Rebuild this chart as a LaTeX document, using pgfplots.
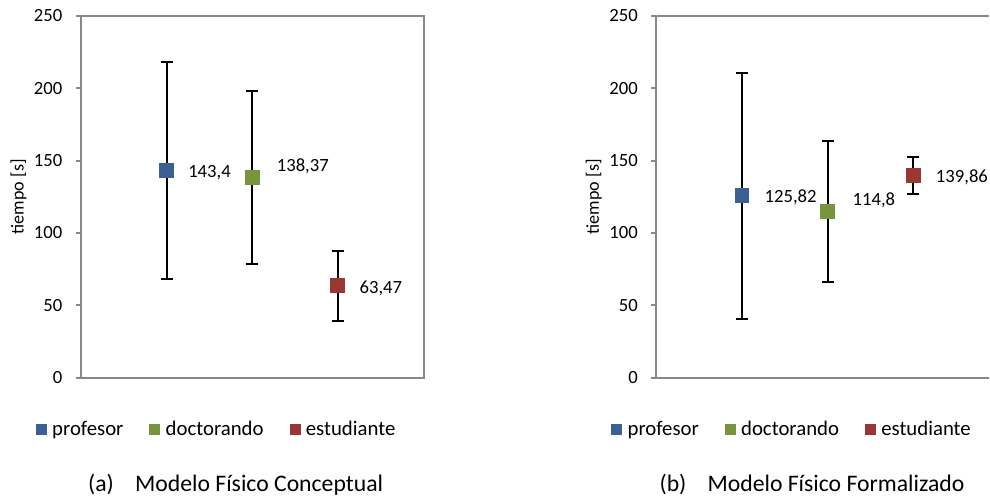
\documentclass[border=0pt]{standalone}
\usepackage{fontspec}
\setmainfont{Carlito}
\usepackage{pgfplots}
\pgfplotsset{compat=1.18}
\definecolor{cblue}{HTML}{3B6194}
\definecolor{cgreen}{HTML}{77963C}
\definecolor{cred}{HTML}{993735}
\definecolor{cframe}{HTML}{888888}
\newcommand\chartfont{\fontsize{14}{16}\selectfont}
\pgfplotsset{
  panel/.style={
    scale only axis, height=271.5pt,
    anchor=south west,
    xmin=0, ymin=0, ymax=250,
    ytick={0,50,...,250}, xtick=\empty, ytick pos=left,
    axis line style={-, cframe, line width=1.5pt},
    tick style={cframe, line width=1.5pt},
    tick align=outside, major tick length=3.75pt,
    yticklabel style={font=\chartfont, inner sep=0pt, xshift=-10pt},
    /pgf/number format/assume math mode=true,
    ylabel={tiempo [s]},
    ylabel style={font=\fontsize{13.6}{16}\selectfont, at={([xshift=-46.9pt]axis description cs:0,0.5)}, anchor=center},
    point meta=explicit symbolic,
    nodes near coords,
    visualization depends on={value \thisrow{dx}\as\labdx},
    visualization depends on={value \thisrow{dy}\as\labdy},
    nodes near coords style={anchor=west, inner sep=0pt, text depth=0pt, text=black,
      font=\chartfont, xshift=\labdx pt, yshift=\labdy pt},
    legend columns=3,
    legend style={at={(axis description cs:0,-0.1436)}, xshift=-33.96pt, anchor=west,
      draw=none, fill=none, inner sep=0pt,
      font=\fontsize{15.6}{18}\selectfont,
      nodes={inner sep=0pt},
      /tikz/every odd column/.append style={column sep=4.3pt},
      /tikz/every even column/.append style={column sep=19.5pt}},
  },
  pt/.style={only marks, mark=square*, color=#1,
    mark size=5.25pt, mark options={fill=#1, draw=#1, line width=0pt},
    error bars/.cd, y dir=both, y explicit,
    error bar style={black, line width=1.5pt},
    error mark options={black, rotate=90, mark size=4.5pt, line width=1.5pt},
    /pgfplots/.cd,
    legend image code/.code={\fill[#1] (0pt,-3.75pt) rectangle (7.5pt,3.75pt);}},
}
\begin{document}
\begin{tikzpicture}
\path (0,0) rectangle (742.5pt,-372.75pt);
\begin{axis}[panel, width=257.25pt, xmax=4, at={(60.75pt,-283.5pt)}]
\addplot[pt=cblue] table[x=x, y=y, y error=e, meta=lab] {
x y e lab dx dy
1 143.4 75 {143,4} 16.3 -0.75
};
\addlegendentry{profesor}
\addplot[pt=cgreen] table[x=x, y=y, y error=e, meta=lab] {
x y e lab dx dy
2 138.37 60 {138,37} 18.5 9
};
\addlegendentry{doctorando}
\addplot[pt=cred] table[x=x, y=y, y error=e, meta=lab] {
x y e lab dx dy
3 63.47 24 {63,47} 16.3 -0.75
};
\addlegendentry{estudiante}
\end{axis}
\begin{axis}[panel, width=249.75pt, xmax=3.8834, axis lines*=left, at={(492.75pt,-283.5pt)}]
\draw[cframe, line width=1.5pt] (rel axis cs:0,1) -- (rel axis cs:1,1);
\addplot[pt=cblue] table[x=x, y=y, y error=e, meta=lab] {
x y e lab dx dy
1 125.82 85 {125,82} 17 -0.75
};
\addlegendentry{profesor}
\addplot[pt=cgreen] table[x=x, y=y, y error=e, meta=lab] {
x y e lab dx dy
2 114.8 49 {114,8} 18.8 9
};
\addlegendentry{doctorando}
\addplot[pt=cred] table[x=x, y=y, y error=e, meta=lab] {
x y e lab dx dy
3 139.86 13 {139,86} 17 -0.75
};
\addlegendentry{estudiante}
\end{axis}
\begin{scope}[every node/.style={anchor=base west, inner sep=0pt, font=\fontsize{17.8}{20}\selectfont}]
\node at (66pt,-369pt) {(a)};
\node at (101.25pt,-369pt) {Modelo Físico Conceptual};
\node at (495pt,-369pt) {(b)};
\node at (531pt,-369pt) {Modelo Físico Formalizado};
\end{scope}
\end{tikzpicture}
\end{document}
